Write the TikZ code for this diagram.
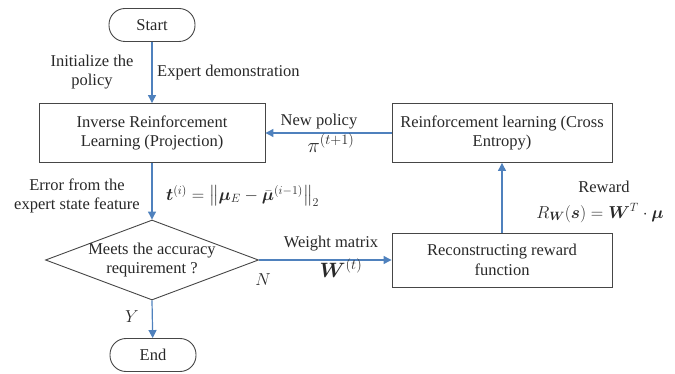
\documentclass[tikz,border=0pt]{standalone}
\usepackage{amsmath}
\usepackage{bm}
\usepackage{fontspec}
\setmainfont{Liberation Serif}
\usetikzlibrary{arrows.meta,shapes.geometric}
\definecolor{arrblue}{RGB}{79,129,189}
\definecolor{boxgray}{RGB}{70,70,70}
\definecolor{txtgray}{RGB}{40,40,40}
\begin{document}
\begin{tikzpicture}[x=1pt,y=-1pt,
  every node/.style={font=\fontsize{16.5}{19.5}\selectfont, text=txtgray},
  term/.style={draw=boxgray, line width=0.9pt, rounded corners=16pt, minimum width=86pt, minimum height=33pt, inner sep=0pt},
  proc/.style={draw=boxgray, line width=0.9pt, align=center, inner sep=0pt, minimum width=222pt, minimum height=58pt},
  decision/.style={draw=boxgray, line width=0.9pt, diamond, inner sep=0pt, minimum width=213pt, minimum height=80pt},
  lbl/.style={align=center, inner sep=0pt},
  bigmath/.style={lbl, font=\fontsize{20}{22}\selectfont},
  arr/.style={draw=arrblue, line width=1.2pt, -{Triangle[length=8pt,width=8pt]}}]
\useasboundingbox (0,0) rectangle (675,374);

\node[term] (start) at (152,25) {Start};
\node[proc, minimum width=226pt, minimum height=59pt] (irl) at (152,133) {Inverse Reinforcement\\Learning (Projection)};
\node[proc, minimum width=220pt, minimum height=59pt] (rl) at (502,133) {Reinforcement learning (Cross\\Entropy)};
\node[decision] (dia) at (152,260) {};
\node[lbl] (diatext) at (152,260) {Meets the accuracy\\requirement ?};
\node[proc, minimum width=220pt, minimum height=54pt] (rec) at (502,260) {Reconstructing reward\\function};
\node[term] (end) at (153,355) {End};

\draw[arr] (start) -- (irl);
\draw[arr] (irl) -- (dia.north);
\draw[arr] (dia.south) -- (end);
\draw[arr] (dia.east) -- (rec.west);
\draw[arr] (rec) -- (rl);
\draw[arr] (rl) -- (irl);

\node[lbl] (init) at (92,72) {Initialize the\\policy};
\node[lbl, anchor=west] (expert) at (157,73) {Expert demonstration};
\node[lbl] (newpol) at (319,122) {New policy};
\node[bigmath] (pi) at (331,143) {$\pi^{(t+1)}$};
\node[lbl] (err) at (77,196) {Error from the\\expert state feature};
\node[lbl, anchor=west] (form) at (166,196) {$\bm{t}^{(i)} = \big\| \bm{\mu}_{E} - \bar{\bm{\mu}}^{(i-1)} \big\|_2$};
\node[lbl] (wm) at (331,244) {Weight matrix};
\node[bigmath] (wt) at (341,268) {$\bm{W}^{(t)}$};
\node[lbl] (nlab) at (263,280) {$N$};
\node[lbl] (ylab) at (132,317) {$Y$};
\node[lbl] (reward) at (604,187) {Reward};
\node[bigmath, font=\fontsize{18}{20}\selectfont] (rform) at (600,213) {$R_{\bm{W}}(\bm{s}) = \bm{W}^{T}\cdot\bm{\mu}$};
\end{tikzpicture}
\end{document}
